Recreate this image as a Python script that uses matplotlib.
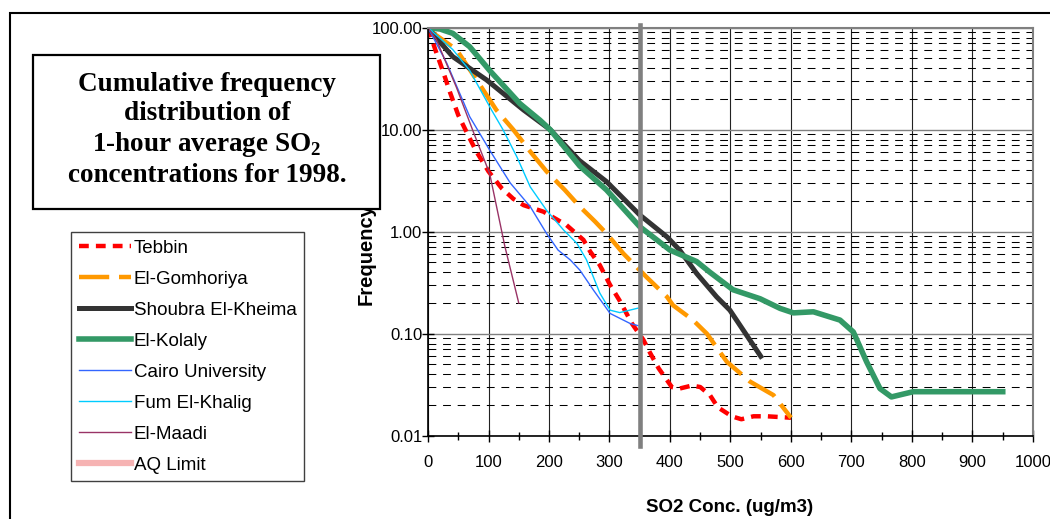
import numpy as np
import matplotlib.pyplot as plt
from matplotlib.lines import Line2D
from matplotlib.patches import Rectangle
from matplotlib.ticker import FixedLocator, FuncFormatter, MultipleLocator, LogLocator, NullFormatter

plt.rcParams['font.family'] = ['Liberation Sans', 'DejaVu Sans']
plt.rcParams['mathtext.fontset'] = 'custom'
plt.rcParams['mathtext.rm'] = 'Liberation Serif:bold'

# Data (SO2 concentration in ug/m3, frequency in %)
tebbin_x = [0, 12, 25, 36, 50, 66, 80, 100, 122, 141, 158, 191, 229, 257, 268, 284, 301, 317,
            337, 356, 367, 381, 403, 416, 436, 450, 466, 479, 502, 518, 538, 560, 600]
tebbin_y = [100, 61, 37, 23.6, 13.9, 8.9, 6.1, 3.9, 2.66, 2.1, 1.82, 1.57, 1.16, 0.83, 0.64, 0.47,
            0.30, 0.21, 0.126, 0.087, 0.065, 0.046, 0.030, 0.029, 0.031, 0.030, 0.025, 0.019,
            0.0155, 0.0145, 0.0155, 0.0155, 0.015]

gomhoriya_x = [0, 8, 47, 80, 113, 141, 171, 196, 226, 251, 276, 295, 323, 361, 395, 405, 438,
               461, 494, 532, 571, 593, 600]
gomhoriya_y = [100, 89, 61, 31, 15.6, 10, 5.9, 3.9, 2.57, 1.76, 1.26, 0.96, 0.61, 0.36, 0.23,
               0.19, 0.136, 0.10, 0.053, 0.034, 0.025, 0.017, 0.015]

shoubra_x = [0, 20, 41, 97, 158, 202, 250, 295, 350, 395, 416, 444, 477, 499, 550]
shoubra_y = [100, 72, 52, 30.7, 15.6, 10, 5.0, 3.1, 1.46, 0.89, 0.66, 0.39, 0.23, 0.17, 0.060]

kolaly_x = [0, 20, 41, 69, 102, 152, 185, 202, 251, 295, 350, 400, 444, 466, 504, 549, 582,
            604, 637, 681, 703, 725, 747, 766, 802, 950]
kolaly_y = [100, 97, 88, 65, 38, 18, 12.4, 10, 4.4, 2.57, 1.12, 0.66, 0.51, 0.40, 0.27, 0.22,
            0.177, 0.16, 0.164, 0.136, 0.104, 0.053, 0.029, 0.024, 0.027, 0.027]

cairo_x = [0, 31, 69, 102, 136, 169, 196, 215, 235, 251, 273, 301, 334, 347]
cairo_y = [100, 45, 13.4, 6.3, 3.0, 1.76, 0.96, 0.66, 0.53, 0.42, 0.27, 0.158, 0.126, 0.12]

fum_x = [0, 41, 69, 105, 124, 147, 169, 196, 224, 246, 262, 284, 301, 317, 347]
fum_y = [100, 61, 38, 15.6, 10, 5.4, 2.75, 1.62, 1.04, 0.77, 0.53, 0.25, 0.17, 0.161, 0.178]

maadi_x = [0, 14, 47, 75, 102, 127, 150]
maadi_y = [100, 76, 26, 9.5, 3.7, 0.72, 0.2]

aq_limit = 350

fig = plt.figure(figsize=(10.5, 5.19), dpi=100)
ax = fig.add_axes([428 / 1050, 1 - 435.7 / 519, 605 / 1050, 408 / 519])

l1, = ax.plot(tebbin_x, tebbin_y, color='#ff0000', lw=3.2, dashes=(2.2, 1.6), label='Tebbin')
l2, = ax.plot(gomhoriya_x, gomhoriya_y, color='#ff9900', lw=3.2, dashes=(6.8, 2.2), label='El-Gomhoriya')
l3, = ax.plot(shoubra_x, shoubra_y, color='#333333', lw=3.6, label='Shoubra El-Kheima')
l4, = ax.plot(kolaly_x, kolaly_y, color='#339966', lw=4.0, label='El-Kolaly')
l5, = ax.plot(cairo_x, cairo_y, color='#3366ff', lw=1.0, label='Cairo University')
l6, = ax.plot(fum_x, fum_y, color='#00ccff', lw=1.0, label='Fum El-Khalig')
l7, = ax.plot(maadi_x, maadi_y, color='#993366', lw=1.0, label='El-Maadi')
ax.plot([aq_limit, aq_limit], [106, 0.0079], color='#808080', lw=3.3, clip_on=False, zorder=3)

ax.set_yscale('log')
ax.set_xlim(0, 1000)
ax.set_ylim(0.01, 100)
ax.xaxis.set_major_locator(MultipleLocator(100))
ax.xaxis.set_minor_locator(MultipleLocator(50))
ax.yaxis.set_major_locator(FixedLocator([0.01, 0.1, 1, 10, 100]))
ax.yaxis.set_minor_locator(LogLocator(base=10, subs=np.arange(2, 10)))
ax.yaxis.set_major_formatter(FuncFormatter(lambda v, p: f'{v:.2f}'))
ax.yaxis.set_minor_formatter(NullFormatter())

ax.set_axisbelow(True)
ax.grid(True, which='major', axis='x', color='#222222', lw=0.8)
ax.grid(True, which='major', axis='y', color='#808080', lw=1.0)
ax.grid(True, which='minor', axis='y', color='black', lw=0.75, linestyle=(0, (7.5, 6.5)))

ax.tick_params(axis='both', which='major', direction='inout', length=8, width=1, labelsize=12)
ax.tick_params(axis='y', which='major', pad=0)
ax.tick_params(axis='x', which='major', pad=10)
ax.tick_params(axis='y', which='minor', length=0)
ax.tick_params(axis='x', which='minor', direction='inout', length=6, width=1)

for side in ['left', 'bottom']:
    ax.spines[side].set_color('black')
    ax.spines[side].set_linewidth(1.2)
for side in ['top', 'right']:
    ax.spines[side].set_color('#808080')
    ax.spines[side].set_linewidth(1.5)

# axis labels
fig.text(730 / 1050, 1 - 508 / 519, 'SO2 Conc. (ug/m3)', ha='center', va='center',
         fontsize=13.5, fontweight='bold')
fig.text(366 / 1050, 1 - 254 / 519, 'Frequency', ha='center', va='center', rotation=90,
         fontsize=14.5, fontweight='bold', zorder=2)

# outer frame
fig.add_artist(Rectangle((10 / 1050, -0.1), 1.2, 1 - 13 / 519 + 0.1, transform=fig.transFigure,
                         fill=False, edgecolor='black', lw=1.5, zorder=1))

# title box
fig.add_artist(Rectangle((33 / 1050, 1 - 209 / 519), 347 / 1050, 154 / 519, transform=fig.transFigure,
                         facecolor='white', edgecolor='black', lw=1.6, zorder=5))
fig.text(207 / 1050, 1 - 130 / 519,
         'Cumulative frequency\ndistribution of\n1-hour average SO$_2$\nconcentrations for 1998.',
         family='Liberation Serif', fontweight='bold', fontsize=19.5, ha='center', va='center',
         linespacing=1.2, zorder=6)

# legend
aq_handle = Line2D([], [], color='#f6b3b3', lw=4.5)
handles = [l1, l2, l3, l4, l5, l6, l7, aq_handle]
labels = [h.get_label() for h in handles[:-1]] + ['AQ Limit']
leg = fig.legend(handles, labels, loc='upper left', bbox_to_anchor=(71 / 1050, 1 - 232 / 519),
                 frameon=True, fancybox=False, edgecolor='#404040', framealpha=1, fontsize=13.5,
                 handlelength=2.8, handletextpad=0.15, labelspacing=0.74, borderpad=0.4,
                 borderaxespad=0)
leg.get_frame().set_linewidth(1.0)
leg.set_zorder(7)

fig.savefig('out.png', dpi=100)
